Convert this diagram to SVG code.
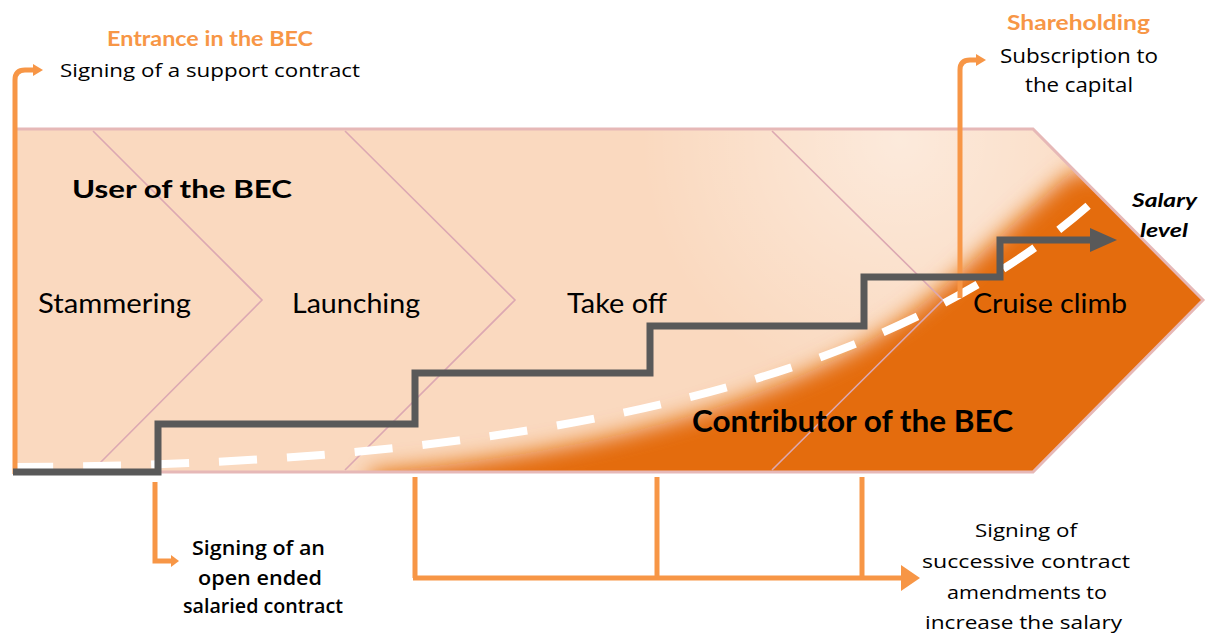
<svg xmlns="http://www.w3.org/2000/svg" width="1206" height="636" viewBox="0 0 1206 636">
<style>
.t{font-family:Lato,"Liberation Sans",sans-serif;fill:#000}
.s{font-family:"Open Sans","Noto Sans",sans-serif;fill:#000}
.b{font-weight:bold}
.or{fill:#F79646}
.con{fill:none;stroke:#F79646;stroke-width:5}
.chev{fill:none;stroke:#DCA8B2;stroke-width:1.6}
</style>
<defs>
<clipPath id="bandClip"><path d="M15,129 H1033 L1203,300 L1033,472 H15 Z"/></clipPath>
<filter id="blur" x="-20%" y="-20%" width="140%" height="140%"><feGaussianBlur stdDeviation="11"/></filter>
<radialGradient id="hi" cx="900" cy="140" r="260" gradientUnits="userSpaceOnUse">
<stop offset="0" stop-color="#FFFFFF" stop-opacity="0.45"/>
<stop offset="1" stop-color="#FFFFFF" stop-opacity="0"/>
</radialGradient>
</defs>

<g id="band">
<path d="M15,129 H1033 L1203,300 L1033,472 H15 Z" fill="#FAD9BF"/>
<g clip-path="url(#bandClip)">
<rect x="15" y="129" width="1200" height="350" fill="url(#hi)"/>
<g filter="url(#blur)">
<path d="M370,495 L370,472 C550,458 720,420 850,352 C940,302 990,240 1072,172 L1230,172 L1230,495 Z" fill="#E46C0A"/>
</g>
</g>
<path class="chev" d="M93,131 L262,300 L93,470"/>
<path class="chev" d="M345,131 L515,300 L345,470"/>
<path class="chev" d="M772,131 L943,300 L772,470"/>
<path d="M15,129 H1033 L1203,300 L1033,472 H15 Z" fill="none" stroke="#E6B8B7" stroke-width="3"/>
</g>

<g id="salary-curve">
<path d="M15,467 C600,465 920,360 1100,195" fill="none" stroke="#FFFFFF" stroke-width="8" stroke-dasharray="38 30"/>
</g>

<g id="phase-labels">
<text class="t b" x="72" y="198" font-size="25" textLength="220" lengthAdjust="spacingAndGlyphs">User of the BEC</text>
<text class="t" x="38" y="313" font-size="27" textLength="153" lengthAdjust="spacingAndGlyphs">Stammering</text>
<text class="t" x="292" y="313" font-size="27" textLength="128" lengthAdjust="spacingAndGlyphs">Launching</text>
<text class="t" x="567" y="313" font-size="27" textLength="100" lengthAdjust="spacingAndGlyphs">Take off</text>
<text class="t" x="973" y="313" font-size="27" textLength="154" lengthAdjust="spacingAndGlyphs">Cruise climb</text>
<text class="t b" x="692" y="432" font-size="31" textLength="321" lengthAdjust="spacingAndGlyphs">Contributor of the BEC</text>
<text class="t b" x="1132" y="207" font-size="19" font-style="italic" textLength="65" lengthAdjust="spacingAndGlyphs">Salary</text>
<text class="t b" x="1140" y="237" font-size="19" font-style="italic" textLength="48" lengthAdjust="spacingAndGlyphs">level</text>
</g>

<g id="connectors">
<path class="con" d="M15,474 V80 Q15,70 25,70 H35"/>
<polygon class="or" points="33,64 43,70 33,76"/>
<path class="con" d="M155,482 V561 H172"/>
<polygon class="or" points="171,555 179,561 171,567"/>
<path class="con" d="M415,477 V578 M657,477 V580 M862,477 V578 M413,578 H903"/>
<polygon class="or" points="901,565 920,578 901,591"/>
<path class="con" d="M960,298 V70 Q960,60 970,60 H978"/>
<polygon class="or" points="976,54 986,60 976,66"/>
</g>

<g id="salary-steps">
<path d="M13,472 H158 V424 H415 V373 H650 V326 H864 V277 H1000 V240 H1094" fill="none" stroke="#595959" stroke-width="7" stroke-linejoin="miter"/>
<polygon points="1090,228 1117,240 1090,252" fill="#595959"/>
</g>

<g id="entrance">
<text class="t b or" x="107" y="46" font-size="21" textLength="206" lengthAdjust="spacingAndGlyphs">Entrance in the BEC</text>
<text class="s" x="60" y="77" font-size="18" textLength="300" lengthAdjust="spacingAndGlyphs">Signing of a support contract</text>
</g>

<g id="shareholding">
<text class="t b or" x="1007" y="30" font-size="21" textLength="143" lengthAdjust="spacingAndGlyphs">Shareholding</text>
<text class="s" x="1000" y="63" font-size="20" textLength="158" lengthAdjust="spacingAndGlyphs">Subscription to</text>
<text class="s" x="1025" y="92" font-size="20" textLength="108" lengthAdjust="spacingAndGlyphs">the capital</text>
</g>

<g id="open-ended">
<text class="s" x="192" y="555" font-size="19" font-weight="600" textLength="133" lengthAdjust="spacingAndGlyphs">Signing of an</text>
<text class="s" x="198" y="585" font-size="19" font-weight="600" textLength="124" lengthAdjust="spacingAndGlyphs">open ended</text>
<text class="s" x="183" y="613" font-size="19" font-weight="600" textLength="160" lengthAdjust="spacingAndGlyphs">salaried contract</text>
</g>

<g id="amendments">
<text class="s" x="975" y="537" font-size="19" textLength="102" lengthAdjust="spacingAndGlyphs">Signing of</text>
<text class="s" x="922" y="568" font-size="19" textLength="208" lengthAdjust="spacingAndGlyphs">successive  contract</text>
<text class="s" x="947" y="599" font-size="19" textLength="160" lengthAdjust="spacingAndGlyphs">amendments to</text>
<text class="s" x="925" y="629" font-size="19" textLength="197" lengthAdjust="spacingAndGlyphs">increase the salary</text>
</g>
</svg>
